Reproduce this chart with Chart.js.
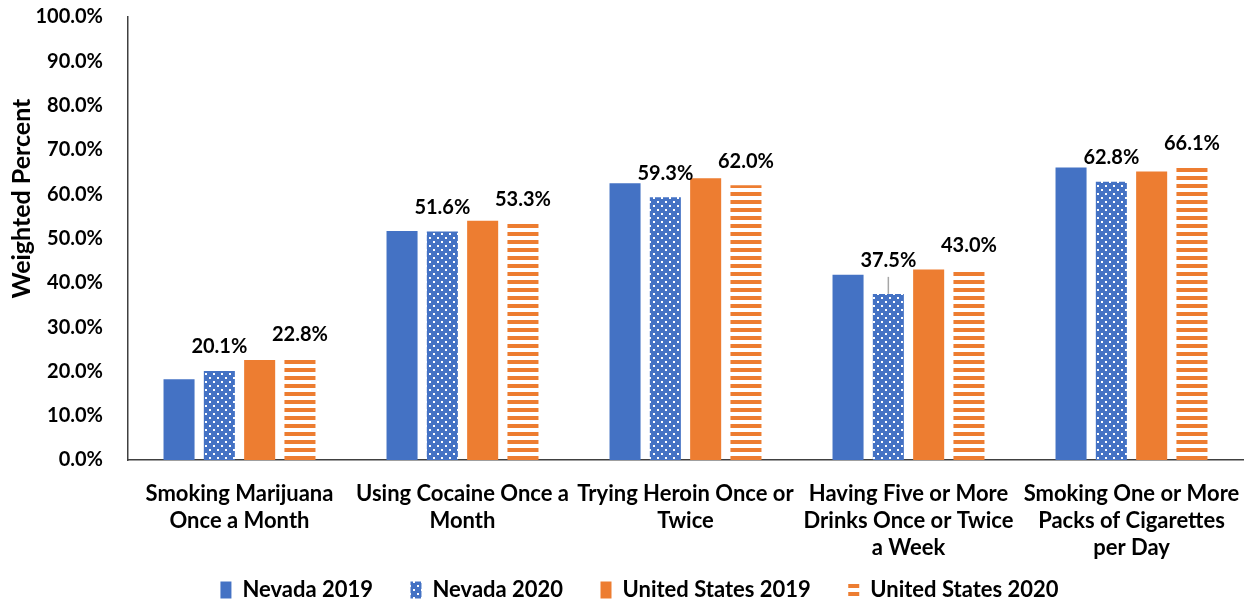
<!DOCTYPE html>
<html>
<head>
<meta charset="utf-8">
<script src="https://cdn.jsdelivr.net/npm/chart.js@4/dist/chart.umd.min.js"></script>
<style>
  html, body { margin: 0; padding: 0; background: #fff; }
  #wrap { width: 1245px; height: 601px; }
</style>
</head>
<body>
<div id="wrap"><canvas id="chart" width="1245" height="601"></canvas></div>
<script>
const categories = [
    ['Smoking Marijuana', 'Once a Month'],
    ['Using Cocaine Once a', 'Month'],
    ['Trying Heroin Once or', 'Twice'],
    ['Having Five or More', 'Drinks Once or Twice', 'a Week'],
    ['Smoking One or More', 'Packs of Cigarettes', 'per Day']
];
const seriesNames = ['Nevada 2019', 'Nevada 2020', 'United States 2019', 'United States 2020'];
const nevada2019 = [18.2, 51.7, 62.5, 41.8, 66.0];
const nevada2020 = [20.1, 51.6, 59.3, 37.5, 62.8];
const us2019 = [22.6, 54.0, 63.6, 43.0, 65.1];
const us2020 = [22.8, 53.3, 62.0, 43.0, 66.1];
const yTicks = [0, 10, 20, 30, 40, 50, 60, 70, 80, 90, 100];
const yTitle = 'Weighted Percent';

const BLUE = '#4472C4';
const ORANGE = '#ED7D31';
const FONT = 'Lato, "Open Sans", sans-serif';

// dotted fill for Nevada 2020
function dotPattern() {
    const c = document.createElement('canvas');
    c.width = 8; c.height = 8;
    const g = c.getContext('2d');
    g.fillStyle = BLUE;
    g.fillRect(0, 0, 8, 8);
    g.fillStyle = '#fff';
    g.fillRect(1, 1, 2, 2);
    g.fillRect(5, 5, 2, 2);
    return g.createPattern(c, 'repeat');
}

// horizontal stripes for United States 2020
function stripePattern() {
    const c = document.createElement('canvas');
    c.width = 8; c.height = 8;
    const g = c.getContext('2d');
    g.fillStyle = '#fff';
    g.fillRect(0, 0, 8, 8);
    g.fillStyle = ORANGE;
    g.fillRect(0, 0, 8, 4);
    return g.createPattern(c, 'repeat');
}

// labels only on the 2020 series; one label pulled up with a leader line
const labelled = [1, 3];
const lifted = { '1-3': 33 };

const valueLabels = {
    id: 'valueLabels',
    afterLayout(chart) {
        // legend sits a bit right of centre in the original
        chart.legend.left += 18;
        chart.legend.right += 18;
    },
    afterDatasetsDraw(chart) {
        const ctx = chart.ctx;
        ctx.save();
        ctx.font = 'bold 20px ' + FONT;
        ctx.fillStyle = '#000';
        ctx.textAlign = 'center';
        ctx.textBaseline = 'middle';
        labelled.forEach(di => {
            const meta = chart.getDatasetMeta(di);
            meta.data.forEach((bar, i) => {
                const v = chart.data.datasets[di].data[i];
                const lift = lifted[di + '-' + i] || 24;
                if (lifted[di + '-' + i]) {
                    ctx.strokeStyle = '#a6a6a6';
                    ctx.lineWidth = 1.5;
                    ctx.beginPath();
                    ctx.moveTo(bar.x, bar.y);
                    ctx.lineTo(bar.x, bar.y - 17);
                    ctx.stroke();
                }
                ctx.fillText(v.toFixed(1) + '%', bar.x, bar.y - lift);
            });
        });

        // axis title, placed above the middle like the original
        const area = chart.chartArea;
        ctx.translate(22, area.top + (area.bottom - area.top) * 0.41);
        ctx.rotate(-Math.PI / 2);
        ctx.font = 'bold 25px ' + FONT;
        ctx.fillText(yTitle, 0, 0);
        ctx.restore();
    }
};

const ctx = document.getElementById('chart').getContext('2d');
const chart = new Chart(ctx, {
    type: 'bar',
    data: {
        labels: categories,
        datasets: [
            { label: seriesNames[0], data: nevada2019, backgroundColor: BLUE },
            { label: seriesNames[1], data: nevada2020, backgroundColor: dotPattern() },
            { label: seriesNames[2], data: us2019, backgroundColor: ORANGE },
            { label: seriesNames[3], data: us2020, backgroundColor: stripePattern() }
        ]
    },
    options: {
        responsive: false,
        animation: false,
        layout: { padding: { top: 0, right: 2, left: 0, bottom: -10 } },
        datasets: {
            bar: { categoryPercentage: 0.723, barPercentage: 0.77 }
        },
        plugins: {
            legend: {
                position: 'bottom',
                labels: {
                    color: '#000',
                    font: { family: FONT, size: 22, weight: 'bold' },
                    boxWidth: 11,
                    boxHeight: 17,
                    padding: 0,
                    // wider gaps between the items, as in the original legend
                    generateLabels(chart) {
                        const items = Chart.defaults.plugins.legend.labels.generateLabels(chart);
                        items.forEach((it, i) => {
                            if (i < items.length - 1) it.text = it.text + '       ';
                        });
                        return items;
                    }
                }
            },
            tooltip: { enabled: false }
        },
        scales: {
            x: {
                grid: { display: false, drawTicks: false },
                border: { display: true, color: '#404040', width: 1.5 },
                ticks: {
                    color: '#000',
                    font: { family: FONT, size: 22, weight: 'bold', lineHeight: 1.23 },
                    maxRotation: 0,
                    autoSkip: false,
                    padding: 20
                },
                afterFit(scale) {
                    scale.height = 119;
                    scale.paddingLeft = 0;
                    scale.paddingRight = 0;
                }
            },
            y: {
                min: 0,
                max: 100,
                afterBuildTicks(scale) { scale.ticks = yTicks.map(v => ({ value: v })); },
                grid: { display: false, drawTicks: false },
                border: { display: true, color: '#404040', width: 1.5 },
                ticks: {
                    color: '#000',
                    font: { family: FONT, size: 20, weight: 'bold' },
                    padding: 25,
                    callback: v => v.toFixed(1) + '%'
                },
                afterFit(scale) {
                    scale.width = 128;
                    scale.paddingTop = 17;
                }
            }
        }
    },
    plugins: [valueLabels]
});
</script>
</body>
</html>
